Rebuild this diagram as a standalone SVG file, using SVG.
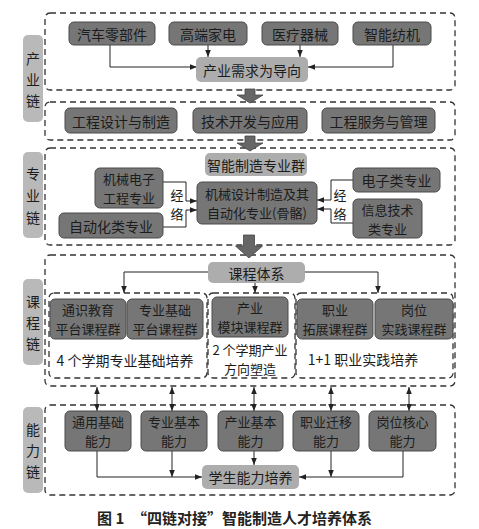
<svg xmlns="http://www.w3.org/2000/svg" width="479" height="529" viewBox="0 0 479 529">
<defs>
<style>
.bg{fill:#ffffff}
.side{fill:#b9b9b9;stroke:none}
.frame{fill:none;stroke:#333;stroke-width:1.3;stroke-dasharray:6 4}
.d{fill:#767676;stroke:#4a4a4a;stroke-width:1}
.l{fill:#adadad;stroke:none}
.t{font-family:"Noto Sans CJK SC","Noto Sans",sans-serif;font-size:14px;fill:#1c1c1c;text-anchor:middle;dominant-baseline:central}
.t2{font-family:"Noto Sans CJK SC","Noto Sans",sans-serif;font-size:13px;fill:#1c1c1c;text-anchor:middle;dominant-baseline:central}
.s{font-family:"Noto Sans CJK SC","Noto Sans",sans-serif;font-size:14px;fill:#1c1c1c;text-anchor:middle;dominant-baseline:central}
.c{fill:none;stroke:#222;stroke-width:1}
.big{fill:#666;stroke:#444;stroke-width:0.8}
.cap{font-family:"Noto Sans CJK SC","Noto Sans",sans-serif;font-size:15px;font-weight:bold;fill:#222;dominant-baseline:central}
</style>
<marker id="ah" viewBox="0 0 10 10" refX="10" refY="5" markerWidth="7" markerHeight="7" orient="auto-start-reverse" markerUnits="userSpaceOnUse">
<path d="M0,1 L10,5 L0,9 Z" fill="#222"/>
</marker>
</defs>
<rect class="bg" x="0" y="0" width="479" height="529"/>

<g id="side-labels">
<rect class="side" x="23" y="35" width="20" height="87" rx="5"/>
<text class="s" x="33" y="57.5">产</text><text class="s" x="33" y="78.5">业</text><text class="s" x="33" y="99.5">链</text>
<rect class="side" x="23" y="152" width="20" height="86" rx="5"/>
<text class="s" x="33" y="173">专</text><text class="s" x="33" y="195">业</text><text class="s" x="33" y="217">链</text>
<rect class="side" x="23" y="279" width="20" height="86" rx="5"/>
<text class="s" x="33" y="301">课</text><text class="s" x="33" y="322">程</text><text class="s" x="33" y="343">链</text>
<rect class="side" x="23" y="407" width="20" height="86" rx="5"/>
<text class="s" x="33" y="429">能</text><text class="s" x="33" y="450">力</text><text class="s" x="33" y="471">链</text>
</g>

<g id="frames">
<rect class="frame" x="45" y="13" width="410" height="77" rx="5"/>
<rect class="frame" x="45" y="102" width="410" height="38" rx="5"/>
<rect class="frame" x="45" y="148" width="410" height="97" rx="5"/>
<rect class="frame" x="45" y="255" width="410" height="131" rx="5"/>
<rect class="frame" x="49" y="293" width="158" height="85" rx="5"/>
<rect class="frame" x="208" y="293" width="87" height="85" rx="5"/>
<rect class="frame" x="296" y="293" width="157" height="85" rx="5"/>
<rect class="frame" x="45" y="405" width="410" height="90" rx="5"/>
</g>

<g id="big-arrows">
<path class="big" d="M245,89 H255 V95 H263 L250,103 L237,95 H245 Z"/>
<path class="big" d="M245,136 H255 V143 H263 L250,151 L237,143 H245 Z"/>
<path class="big" d="M243.5,235 H254.5 V246 H262.5 L249,258 L235.5,246 H243.5 Z"/>
</g>

<g id="connectors">
<path class="c" d="M110,45 V67 H197" marker-end="url(#ah)"/>
<path class="c" d="M208,45 V57" marker-end="url(#ah)"/>
<path class="c" d="M300,45 V57" marker-end="url(#ah)"/>
<path class="c" d="M393,45 V67 H308" marker-end="url(#ah)"/>
<path class="c" d="M163,182 H186 V201 H197" marker-end="url(#ah)"/>
<path class="c" d="M163,227 H186 V210 H197" marker-end="url(#ah)"/>
<path class="c" d="M353,180 H331 V200 H317" marker-end="url(#ah)"/>
<path class="c" d="M353,223 H331 V209 H317" marker-end="url(#ah)"/>
<path class="c" d="M208,272 H124 V293" marker-end="url(#ah)"/>
<path class="c" d="M305,272 H378 V293" marker-end="url(#ah)"/>
<path class="c" d="M255,283 V293" marker-end="url(#ah)"/>
<path class="c" d="M97,387 V411" marker-start="url(#ah)" marker-end="url(#ah)"/>
<path class="c" d="M172,387 V411" marker-start="url(#ah)" marker-end="url(#ah)"/>
<path class="c" d="M254,387 V411" marker-start="url(#ah)" marker-end="url(#ah)"/>
<path class="c" d="M331,387 V411" marker-start="url(#ah)" marker-end="url(#ah)"/>
<path class="c" d="M409,387 V411" marker-start="url(#ah)" marker-end="url(#ah)"/>
<path class="c" d="M97,451 V477 H202" marker-end="url(#ah)"/>
<path class="c" d="M172,451 V477" marker-end="url(#ah)"/>
<path class="c" d="M254,451 V465" marker-end="url(#ah)"/>
<path class="c" d="M331,451 V477" marker-end="url(#ah)"/>
<path class="c" d="M403,451 V477 H299" marker-end="url(#ah)"/>
</g>

<g id="n-qiche"><rect class="d" x="69" y="22" width="86" height="23" rx="5"/><text class="t" x="112" y="33.5">汽车零部件</text></g>
<g id="n-jiadian"><rect class="d" x="169" y="22" width="78" height="23" rx="5"/><text class="t" x="208" y="33.5">高端家电</text></g>
<g id="n-yiliao"><rect class="d" x="262" y="22" width="76" height="23" rx="5"/><text class="t" x="300" y="33.5">医疗器械</text></g>
<g id="n-fangji"><rect class="d" x="353" y="22" width="78" height="23" rx="5"/><text class="t" x="392" y="33.5">智能纺机</text></g>
<g id="n-xuqiu"><rect class="l" x="196" y="57" width="112" height="25" rx="5"/><text class="t" x="252" y="69.5">产业需求为导向</text></g>

<g id="n-gongcheng"><rect class="d" x="65" y="108" width="112" height="25" rx="5"/><text class="t" x="121" y="120.5">工程设计与制造</text></g>
<g id="n-jishu"><rect class="d" x="193" y="108" width="114" height="25" rx="5"/><text class="t" x="250" y="120.5">技术开发与应用</text></g>
<g id="n-fuwu"><rect class="d" x="322" y="108" width="113" height="25" rx="5"/><text class="t" x="378.5" y="120.5">工程服务与管理</text></g>

<g id="n-zhuanyequn"><rect class="l" x="205" y="153" width="102" height="23" rx="5"/><text class="t" x="256" y="164.5">智能制造专业群</text></g>
<g id="n-jixie"><rect class="d" x="197" y="182" width="120" height="42" rx="5"/><text class="t2" x="257" y="193.5">机械设计制造及其</text><text class="t2" x="257" y="212.5">自动化专业(骨骼)</text></g>
<g id="n-jidian"><rect class="d" x="95" y="168" width="68" height="40" rx="5"/><text class="t2" x="129" y="178.5">机械电子</text><text class="t2" x="129" y="197.5">工程专业</text></g>
<g id="n-zidonghua"><rect class="d" x="59" y="213" width="104" height="25" rx="5"/><text class="t" x="111" y="225.5">自动化类专业</text></g>
<g id="n-dianzi"><rect class="d" x="353" y="168" width="87" height="24" rx="5"/><text class="t" x="396.5" y="180">电子类专业</text></g>
<g id="n-xinxi"><rect class="d" x="353" y="199" width="69" height="39" rx="5"/><text class="t2" x="387.5" y="209">信息技术</text><text class="t2" x="387.5" y="228">类专业</text></g>
<g id="lbl-jingluo-l"><text class="t2" x="177" y="194">经</text><text class="t2" x="177" y="213">络</text></g>
<g id="lbl-jingluo-r"><text class="t2" x="340" y="194">经</text><text class="t2" x="340" y="213">络</text></g>

<g id="n-kecheng"><rect class="l" x="208" y="262" width="97" height="21" rx="5"/><text class="t" x="256.5" y="272.5">课程体系</text></g>
<g id="n-tongshi"><rect class="d" x="50" y="299" width="76" height="40" rx="5"/><text class="t2" x="88" y="309.5">通识教育</text><text class="t2" x="88" y="328.5">平台课程群</text></g>
<g id="n-jichu"><rect class="d" x="127" y="299" width="76" height="40" rx="5"/><text class="t2" x="165" y="309.5">专业基础</text><text class="t2" x="165" y="328.5">平台课程群</text></g>
<g id="n-mokuai"><rect class="d" x="212" y="297" width="76" height="40" rx="5"/><text class="t2" x="250" y="307.5">产业</text><text class="t2" x="250" y="326.5">模块课程群</text></g>
<g id="n-tuozhan"><rect class="d" x="297" y="299" width="76" height="40" rx="5"/><text class="t2" x="335" y="309.5">职业</text><text class="t2" x="335" y="328.5">拓展课程群</text></g>
<g id="n-shijian"><rect class="d" x="375" y="299" width="78" height="40" rx="5"/><text class="t2" x="414" y="309.5">岗位</text><text class="t2" x="414" y="328.5">实践课程群</text></g>
<g id="lbl-4"><text class="t" x="125" y="360">4 个学期专业基础培养</text></g>
<g id="lbl-2"><text class="t2" x="250" y="349.5">2 个学期产业</text><text class="t2" x="250" y="368.5">方向塑造</text></g>
<g id="lbl-11"><text class="t" x="363" y="359">1+1 职业实践培养</text></g>

<g id="n-tongyong"><rect class="d" x="65" y="411" width="66" height="40" rx="5"/><text class="t2" x="98" y="421.5">通用基础</text><text class="t2" x="98" y="440.5">能力</text></g>
<g id="n-zhuanyejb"><rect class="d" x="141" y="411" width="66" height="40" rx="5"/><text class="t2" x="174" y="421.5">专业基本</text><text class="t2" x="174" y="440.5">能力</text></g>
<g id="n-chanyejb"><rect class="d" x="218" y="411" width="65" height="40" rx="5"/><text class="t2" x="250.5" y="421.5">产业基本</text><text class="t2" x="250.5" y="440.5">能力</text></g>
<g id="n-qianyi"><rect class="d" x="293" y="411" width="66" height="40" rx="5"/><text class="t2" x="326" y="421.5">职业迁移</text><text class="t2" x="326" y="440.5">能力</text></g>
<g id="n-hexin"><rect class="d" x="369" y="411" width="67" height="40" rx="5"/><text class="t2" x="402.5" y="421.5">岗位核心</text><text class="t2" x="402.5" y="440.5">能力</text></g>
<g id="n-xuesheng"><rect class="l" x="202" y="465" width="97" height="24" rx="5"/><text class="t" x="250.5" y="477">学生能力培养</text></g>

<g id="caption">
<text class="cap" x="97" y="517">图 1</text>
<text class="cap" x="132" y="517">“四链对接”智能制造人才培养体系</text>
</g>
</svg>
